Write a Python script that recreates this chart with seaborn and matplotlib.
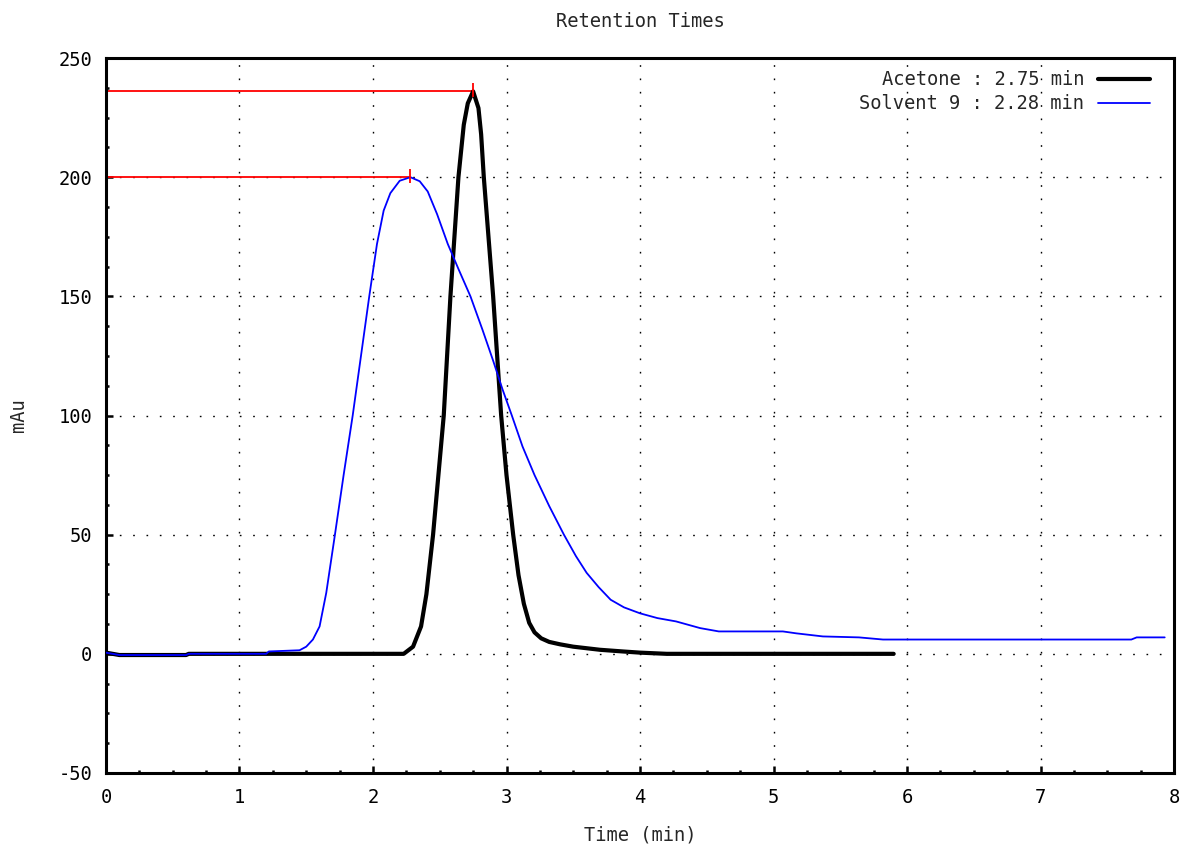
import numpy as np
import pandas as pd
import matplotlib
matplotlib.use("Agg")
import matplotlib.pyplot as plt
import seaborn as sns
from matplotlib.ticker import MultipleLocator

sns.set_style("white")
plt.rcParams['font.family'] = ['DejaVu Sans Mono', 'DejaVu Sans']
plt.rcParams['axes.unicode_minus'] = False

title = "Retention Times"
xlabel = "Time (min)"
ylabel = "mAu"

acetone_label = "Acetone : 2.75 min"
acetone_t = [0.0, 0.1, 0.6, 0.62, 1.2, 1.5, 2.0, 2.23, 2.30, 2.36, 2.40, 2.45, 2.49,
             2.53, 2.58, 2.64, 2.68, 2.71, 2.75, 2.79, 2.81, 2.83, 2.90, 2.96, 3.00,
             3.05, 3.09, 3.13, 3.17, 3.21, 3.26, 3.32, 3.40, 3.50, 3.70, 3.87, 4.0,
             4.2, 5.0, 5.9]
acetone_y = [0.5, -0.5, -0.5, 0.0, 0.0, 0.0, 0.0, 0.0, 3, 11.5, 25, 50, 75,
             100, 150, 200, 222, 231, 236, 229, 218, 200, 150, 100, 75,
             50, 33, 21, 13, 9, 6.5, 5, 4, 3, 1.7, 1, 0.5,
             0.0, 0.0, 0.0]

solvent_label = "Solvent 9 : 2.28 min"
solvent_t = [0.0, 0.1, 0.6, 0.62, 1.2, 1.22, 1.45, 1.5, 1.55, 1.60, 1.65, 1.715, 1.78,
             1.848, 1.91, 1.972, 2.03, 2.08, 2.13, 2.20, 2.28, 2.35, 2.41, 2.48,
             2.56, 2.64, 2.73, 2.82, 2.90, 2.97, 3.04, 3.12, 3.21, 3.32, 3.43,
             3.52, 3.60, 3.69, 3.78, 3.88, 4.0, 4.13, 4.27, 4.45, 4.59, 5.07,
             5.17, 5.37, 5.64, 5.82, 7.68, 7.72, 7.93]
solvent_y = [0.5, -0.5, -0.5, 0.0, 0.0, 1.0, 1.5, 3, 6, 11.5, 25.6, 50, 75,
             100, 125, 150, 172, 186, 193.3, 198.5, 200, 198.3, 194, 184.5,
             172, 161.5, 150, 136, 123, 111, 100, 87, 75, 62, 50,
             41, 34, 28, 22.7, 19.5, 17, 15, 13.6, 10.8, 9.4, 9.4,
             8.6, 7.3, 6.9, 6.0, 6.0, 6.9, 6.9]

df = pd.concat([
    pd.DataFrame({"t": acetone_t, "v": acetone_y, "s": acetone_label}),
    pd.DataFrame({"t": solvent_t, "v": solvent_y, "s": solvent_label}),
])

fig = plt.figure(figsize=(11.84, 8.46), dpi=100)
ax = fig.add_axes([0.0895, 0.0863, 0.9021, 0.8451])

sns.lineplot(data=df, x="t", y="v", hue="s", size="s",
             palette={acetone_label: "black", solvent_label: "#0000ff"},
             sizes={acetone_label: 3.0, solvent_label: 1.3},
             sort=False, estimator=None, ax=ax, legend=True, zorder=3)

# red markers at peaks
for t, y in [(acetone_t, acetone_y), (solvent_t, solvent_y)]:
    i = int(np.argmax(y))
    ax.hlines(y[i], 0, t[i], color="red", lw=1.3, zorder=2)
    ax.vlines(t[i], y[i] - 2.5, y[i] + 3.5, color="red", lw=1.3, zorder=4)

ax.set_xlim(0, 8)
ax.set_ylim(-50, 250)
ax.xaxis.set_major_locator(MultipleLocator(1))
ax.xaxis.set_minor_locator(MultipleLocator(0.25))
ax.yaxis.set_major_locator(MultipleLocator(50))
ax.yaxis.set_minor_locator(MultipleLocator(12.5))
ax.tick_params(which="both", direction="in", bottom=True, left=True,
               top=False, right=False, labelsize=13.5, colors="black")
ax.tick_params(which="major", length=5, width=1.8)
ax.tick_params(axis="x", which="major", pad=11)
ax.tick_params(axis="y", which="major", pad=10)
ax.tick_params(which="minor", length=2.5, width=1.8)
ax.grid(True, which="major", color="black", linestyle=(0, (1.2, 8.4)), lw=1.0)
for sp in ax.spines.values():
    sp.set_color("black")
    sp.set_linewidth(2.2)
    sp.set_visible(True)

ax.set_title(title, fontsize=13.5, pad=22)
ax.set_xlabel(xlabel, fontsize=13.5, labelpad=13)
ax.set_ylabel(ylabel, fontsize=13.5, labelpad=22)

leg = ax.legend(loc="upper right", frameon=False, markerfirst=False,
                fontsize=13.5, handlelength=2.8, borderpad=0, borderaxespad=0,
                bbox_to_anchor=(0.9775, 0.983),
                labelspacing=0.27, handletextpad=0.7)

fig.savefig("out.png", dpi=100)
